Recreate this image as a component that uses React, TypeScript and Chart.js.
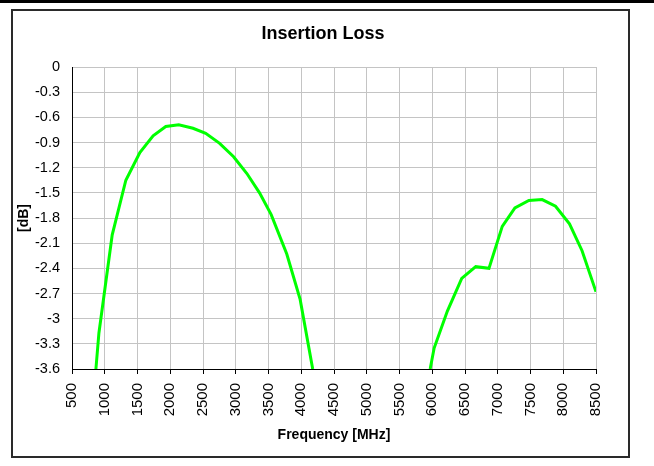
import React, { useEffect, useRef } from "react";
import { Chart, registerables } from "chart.js";

Chart.register(...registerables);

const chartTitle = "Insertion Loss";
const xTitle = "Frequency [MHz]";
const yTitle = "[dB]";

const xMin = 500;
const xMax = 8500;
const xStep = 500;
const yMin = -3.6;
const yMax = 0;
const yStep = 0.3;

const freqLow = [865, 911, 1114, 1322, 1536, 1738, 1932, 2130, 2347, 2541, 2754, 2967, 3170, 3363, 3541, 3779, 3983, 4175];
const lossLow = [-3.6, -3.17, -2.0, -1.35, -1.02, -0.82, -0.71, -0.69, -0.73, -0.79, -0.91, -1.07, -1.27, -1.5, -1.76, -2.23, -2.77, -3.6];

const freqHigh = [5968, 6029, 6231, 6450, 6664, 6866, 7069, 7262, 7475, 7678, 7882, 8095, 8287, 8500];
const lossHigh = [-3.6, -3.35, -2.91, -2.52, -2.38, -2.4, -1.9, -1.68, -1.59, -1.58, -1.66, -1.87, -2.19, -2.68];

const FONT = "'Liberation Sans', Arial, Helvetica, sans-serif";

export default function App() {
  const ref = useRef<HTMLCanvasElement>(null);

  useEffect(() => {
    document.body.style.margin = "0";
    const points: any[] = [];
    freqLow.forEach((f, i) => points.push({ x: f, y: lossLow[i] }));
    points.push({ x: (freqLow[freqLow.length - 1] + freqHigh[0]) / 2, y: null });
    freqHigh.forEach((f, i) => points.push({ x: f, y: lossHigh[i] }));

    const chart = new Chart(ref.current!, {
      type: "line",
      data: {
        datasets: [
          {
            label: chartTitle,
            data: points,
            borderColor: "#00ff00",
            borderWidth: 3,
            pointRadius: 0,
            tension: 0,
            spanGaps: false,
            fill: false,
          },
        ],
      },
      options: {
        animation: false,
        responsive: false,
        maintainAspectRatio: false,
        layout: { padding: { left: 0, right: 8, top: 0, bottom: 0 } },
        plugins: {
          legend: { display: false },
          tooltip: { enabled: false },
          title: {
            display: true,
            text: chartTitle,
            color: "#000",
            font: { family: FONT, size: 18, weight: "bold" },
            padding: { top: 23.2, bottom: 22.2 },
          },
        },
        scales: {
          x: {
            type: "linear",
            position: "bottom",
            min: xMin,
            max: xMax,
            afterFit: (s: any) => {
              s.height = 97;
            },
            afterBuildTicks: (s: any) => {
              const t = [];
              for (let v = xMin; v <= xMax; v += xStep) t.push({ value: v });
              s.ticks = t;
            },
            ticks: {
              color: "#000",
              font: { family: FONT, size: 15 },
              minRotation: 90,
              maxRotation: 90,
              padding: 9,
              autoSkip: false,
              callback: (v: any) => String(v),
            },
            grid: {
              color: "#c4c4c4",
              lineWidth: 1,
              tickLength: 5,
              tickColor: "#000",
              drawTicks: true,
            },
            border: { display: true, color: "#000", width: 1 },
            title: {
              display: true,
              text: xTitle,
              color: "#000",
              font: { family: FONT, size: 14, weight: "bold" },
              padding: { top: 0, bottom: 22 },
            },
          },
          y: {
            type: "linear",
            position: "left",
            min: yMin,
            max: yMax,
            afterFit: (s: any) => {
              s.width = 72;
            },
            afterBuildTicks: (s: any) => {
              const t = [];
              for (let i = 0; i <= Math.round((yMax - yMin) / yStep); i++) {
                t.push({ value: Number((yMin + i * yStep).toFixed(1)) });
              }
              s.ticks = t;
            },
            ticks: {
              color: "#000",
              font: { family: FONT, size: 14.5 },
              padding: 12,
              autoSkip: false,
              callback: (v: any) => String(Number(Number(v).toFixed(1))),
            },
            grid: { color: "#c4c4c4", lineWidth: 1, drawTicks: false },
            border: { display: true, color: "#000", width: 1 },
            title: {
              display: true,
              text: yTitle,
              color: "#000",
              font: { family: FONT, size: 14, weight: "bold" },
              padding: { top: 16, bottom: 0 },
            },
          },
          yRight: {
            type: "linear",
            position: "right",
            display: true,
            afterFit: (s: any) => {
              s.width = 50;
            },
            ticks: { display: false },
            grid: { display: false, drawTicks: false },
            border: { display: false },
          },
        },
      } as any,
    });
    return () => chart.destroy();
  }, []);

  return (
    <div style={{ position: "relative", width: 654, height: 466, background: "#fff" }}>
      <div style={{ position: "absolute", left: 0, top: 0, width: 654, height: 3, background: "#000" }} />
      <div
        style={{
          position: "absolute",
          left: 11,
          top: 9,
          width: 619,
          height: 449,
          border: "2px solid #2a2a2a",
          boxSizing: "border-box",
        }}
      />
      <canvas ref={ref} width={654} height={466} style={{ position: "absolute", left: 0, top: 0, width: 654, height: 466 }} />
    </div>
  );
}
